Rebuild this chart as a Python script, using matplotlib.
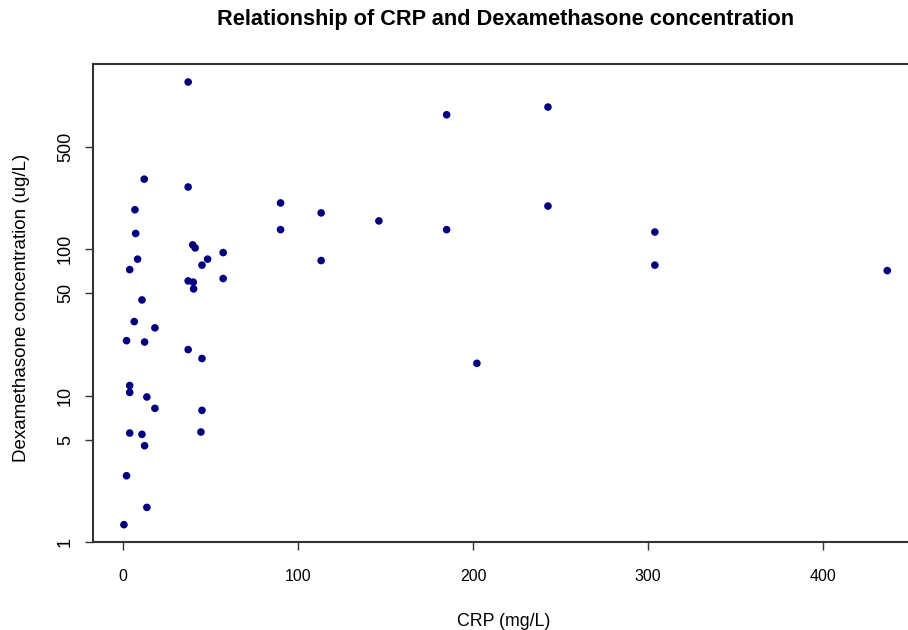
#!/usr/bin/env python3

"""
Scatter of CRP against dexamethasone concentration (log y axis),
drawn to look like a base R plot.
"""

import numpy as np
import matplotlib

matplotlib.use("Agg")
import matplotlib.pyplot as plt


OUT = "out.png"

CRP = [
    37.1, 12.0, 37.1, 6.7, 7.1, 39.7, 41.1, 57.1, 8.2, 48.2,
    45.0, 3.7, 37.1, 40.0, 40.2, 57.1, 10.7, 6.3, 18.1, 1.9,
    12.2, 37.1, 45.0, 3.7, 3.7, 13.5, 18.1, 45.0, 44.4, 3.7,
    10.7, 12.2, 1.9, 13.5, 0.4, 184.8, 242.7, 89.9, 113.1, 146.1,
    89.9, 184.8, 242.7, 113.1, 202.1, 303.8, 303.8, 436.6,
]
DEXA = [
    1388, 301, 266, 186, 128, 107, 102, 94.8, 85.5, 85.5,
    77.8, 72.5, 60.7, 59.5, 53.5, 63.0, 45.0, 32.0, 29.0, 23.7,
    23.2, 20.6, 17.9, 11.7, 10.5, 9.77, 8.17, 7.92, 5.63, 5.54,
    5.43, 4.54, 2.83, 1.72, 1.31, 829, 936, 207, 177, 156,
    136, 136, 197, 83.6, 16.6, 131, 77.8, 71.4,
]

X_TICKS = [0, 100, 200, 300, 400]
Y_TICKS = [1, 5, 10, 50, 100, 500]

TITLE = "Relationship of CRP and Dexamethasone concentration"
X_LABEL = "CRP (mg/L)"
Y_LABEL = "Dexamethasone concentration (ug/L)"

plt.rcParams["font.family"] = ["Liberation Sans", "DejaVu Sans"]

W, H = 908, 630
fig = plt.figure(figsize=(W / 100, H / 100), dpi=100)

# plot region in pixels (R's box runs past the right edge of the picture)
left_px, right_px, top_px, bottom_px = 93.4, 917.8, 64.3, 542.4
ax = fig.add_axes([
    left_px / W,
    (H - bottom_px) / H,
    (right_px - left_px) / W,
    (bottom_px - top_px) / H,
])

x = np.array(CRP)
y = np.array(DEXA)

ax.scatter(x, y, s=30, color="#000080", edgecolors="none", zorder=3)

ax.set_yscale("log")

# R style 4% padding around the data range
xr = x.max() - x.min()
ax.set_xlim(x.min() - 0.04 * xr, x.max() + 0.04 * xr)
ly = np.log10(y)
lr = ly.max() - ly.min()
ax.set_ylim(10 ** (ly.min() - 0.04 * lr), 10 ** (ly.max() + 0.04 * lr))

ax.set_xticks(X_TICKS)
ax.set_xticklabels([str(t) for t in X_TICKS])
ax.set_yticks(Y_TICKS)
ax.set_yticklabels([str(t) for t in Y_TICKS], rotation=90, va="center")
ax.yaxis.set_minor_locator(matplotlib.ticker.NullLocator())

ax.tick_params(axis="both", direction="out", length=6, width=1, color="#333333")
ax.tick_params(axis="x", labelsize=11.5, pad=13)
ax.tick_params(axis="y", labelsize=13, pad=8)

for sp in ax.spines.values():
    sp.set_linewidth(1.5)
    sp.set_color("#333333")

axh = bottom_px - top_px
axw = right_px - left_px
ax.set_xlabel(X_LABEL, fontsize=12.8)
ax.xaxis.set_label_coords((504 - left_px) / axw, (bottom_px - 621.7) / axh)
ax.xaxis.label.set_va("center")
ax.set_ylabel(Y_LABEL, fontsize=13.5)
ax.yaxis.set_label_coords((22 - left_px) / axw, (bottom_px - 308) / axh)
ax.yaxis.label.set_va("center")

fig.text((left_px + right_px) / 2 / W, 1 - 20 / H, TITLE,
         ha="center", va="center", fontsize=15.7, fontweight="bold")

fig.savefig(OUT, dpi=100)
plt.close(fig)
